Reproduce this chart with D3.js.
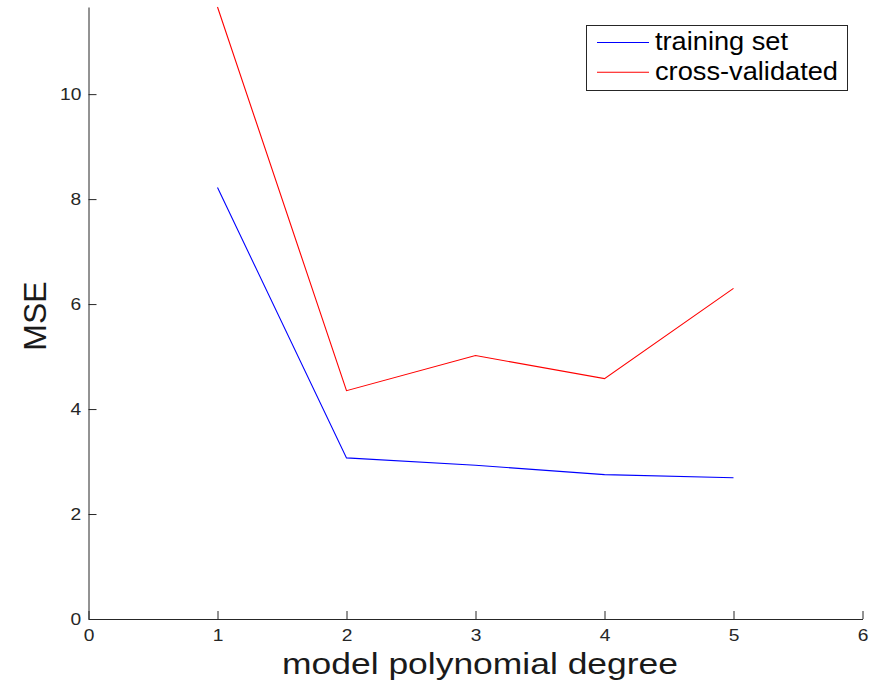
<!DOCTYPE html>
<html>
<head>
<meta charset="utf-8">
<script src="https://cdn.jsdelivr.net/npm/d3@7"></script>
<style>
  body { margin: 0; background: #fff; }
  svg { display: block; font-family: "Liberation Sans", Arial, Helvetica, sans-serif; }
  .axis path, .axis line { stroke: #262626; }
  .axis text { fill: #262626; font-size: 16px; }
  .line { fill: none; stroke-width: 1.1; }
</style>
</head>
<body>
<svg id="chart"></svg>
<script>
var degrees = [1, 2, 3, 4, 5];
var trainingMSE = [8.22, 3.07, 2.93, 2.75, 2.69];
var crossValMSE = [11.66, 4.35, 5.02, 4.58, 6.30];
var xTicks = [0, 1, 2, 3, 4, 5, 6];
var yTicks = [0, 2, 4, 6, 8, 10];
var seriesNames = ["training set", "cross-validated"];
var seriesColors = ["#0000ff", "#ff0000"];

var margin = {top: 7, right: 17.5, bottom: 64, left: 88.5};
var width = 880 - margin.left - margin.right,
    height = 683 - margin.top - margin.bottom;

var root = d3.select("#chart")
  .attr("width", 880)
  .attr("height", 683);

var svg = root.append("g")
  .attr("transform", "translate(" + margin.left + "," + margin.top + ")");

//Scales
var x = d3.scaleLinear().domain([0, 6]).range([0, width]);
var y = d3.scaleLinear().domain([0, 11.66]).range([height, 0]);

//x axis, ticks point inward like matlab
svg.append("g")
  .attr("class", "axis")
  .attr("transform", "translate(0," + height + ")")
  .call(d3.axisBottom(x).tickValues(xTicks).tickFormat(d3.format("d"))
    .tickSizeInner(-8).tickSizeOuter(0).tickPadding(11))
  .selectAll("text")
    .attr("transform", "scale(1.2,1)");

//y axis
svg.append("g")
  .attr("class", "axis")
  .call(d3.axisLeft(y).tickValues(yTicks).tickFormat(d3.format("d"))
    .tickSizeInner(-8).tickSizeOuter(0).tickPadding(6))
  .selectAll("text")
    .attr("transform", "scale(1.2,1)");

//Axis labels
root.append("text")
  .attr("x", 480)
  .attr("y", 674)
  .attr("text-anchor", "middle")
  .attr("textLength", 396)
  .attr("lengthAdjust", "spacingAndGlyphs")
  .style("font-size", "30px")
  .style("fill", "#1a1a1a")
  .text("model polynomial degree");

root.append("text")
  .attr("transform", "translate(46,316) rotate(-90)")
  .attr("text-anchor", "middle")
  .style("font-size", "32px")
  .style("fill", "#1a1a1a")
  .text("MSE");

//Lines
var line = d3.line()
  .x(function(d) { return x(d.degree); })
  .y(function(d) { return y(d.mse); });

var series = [trainingMSE, crossValMSE].map(function(vals) {
  return degrees.map(function(dg, i) { return {degree: dg, mse: vals[i]}; });
});

svg.selectAll(".line")
  .data(series)
  .enter().append("path")
    .attr("class", "line")
    .style("stroke", function(d, i) { return seriesColors[i]; })
    .attr("d", line);

//Legend
var legend = root.append("g");

legend.append("rect")
  .attr("x", 586.5)
  .attr("y", 25.5)
  .attr("width", 261)
  .attr("height", 65)
  .style("fill", "#fff")
  .style("stroke", "#262626");

var legendWidths = [133, 183];
seriesNames.forEach(function(name, i) {
  var ly = 42.5 + i * 29.8;
  legend.append("line")
    .attr("x1", 597).attr("x2", 649)
    .attr("y1", ly).attr("y2", ly)
    .style("stroke", seriesColors[i])
    .style("stroke-width", 1.1);
  legend.append("text")
    .attr("x", 655)
    .attr("y", ly + 7.8)
    .attr("textLength", legendWidths[i])
    .attr("lengthAdjust", "spacingAndGlyphs")
    .style("font-size", "26px")
    .style("fill", "#000")
    .text(name);
});
</script>
</body>
</html>
